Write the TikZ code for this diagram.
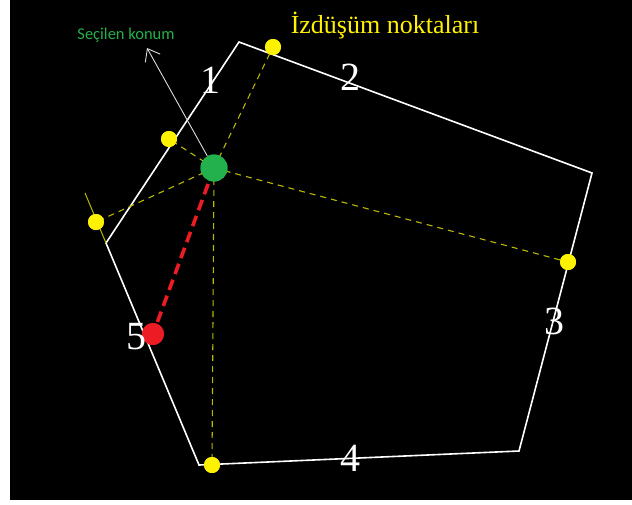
\documentclass[tikz,border=0pt]{standalone}
\usepackage{fontspec}
\setmainfont{Liberation Serif}
\newfontfamily\calibfont{Carlito}
\usetikzlibrary{arrows.meta}
\definecolor{ptgreen}{RGB}{34,177,76}
\definecolor{ptred}{RGB}{237,28,36}
\definecolor{projcol}{RGB}{185,185,0}
\definecolor{ptyellow}{RGB}{255,242,0}
\begin{document}
\begin{tikzpicture}[x=1pt,y=-1pt,
  edge/.style={draw=white,line width=1.6pt,line join=miter},
  proj/.style={draw=projcol,line width=1.1pt,dash pattern=on 6pt off 5pt},
  extline/.style={draw=projcol,line width=1pt},
  ydot/.style={circle,fill=ptyellow,inner sep=0pt,minimum size=16pt},
  gdot/.style={circle,fill=ptgreen,inner sep=0pt,minimum size=27pt},
  rdot/.style={circle,fill=ptred,inner sep=0pt,minimum size=22pt},
  reddash/.style={draw=ptred,line width=3.6pt,dash pattern=on 11pt off 6pt},
  arrowline/.style={draw={rgb,255:red,220;green,220;blue,220},line width=0.9pt,-{Straight Barb[length=11pt,width=17pt,line width=0.9pt]}},
  digit/.style={text=white,font=\fontsize{40}{40}\selectfont,inner sep=0pt},
  title/.style={text=ptyellow,font=\fontsize{26}{26}\selectfont,inner sep=0pt,anchor=base},
  subtitle/.style={text=ptgreen,font=\calibfont\fontsize{16.5}{16.5}\selectfont,inner sep=0pt,anchor=base}
]
\fill[white] (0,0) rectangle (632,504);
\fill[black] (10,0) rectangle (632,500);
\useasboundingbox (0,0) rectangle (632,504);

% pentagon vertices
\coordinate (A) at (239,42);
\coordinate (B) at (592,173);
\coordinate (C) at (519,451);
\coordinate (D) at (199,465);
\coordinate (E) at (106,243);
\coordinate (X) at (85,193);
\coordinate (T) at (147,48);

\draw[edge] (A) -- (B) -- (C) -- (D) -- (E) -- cycle;

% points
\node[gdot] (G) at (214,168) {};
\node[ydot] (P1) at (169,139) {};
\node[ydot] (P2) at (273,47) {};
\node[ydot] (P3) at (568,262) {};
\node[ydot] (P4) at (212,465) {};
\node[ydot] (P5) at (96,222) {};
\node[rdot] (R) at (153,334) {};

% projection lines
\draw[extline] (X) -- (E);
\draw[proj] (G.center) -- (P1.center);
\draw[proj] (G.center) -- (P2.center);
\draw[proj] (G.center) -- (P3.center);
\draw[proj] (G.center) -- (P4.center);
\draw[proj] (G.center) -- (P5.center);
\draw[reddash] (G.center) -- (R.center);

% redraw dots on top
\node[ydot] at (P1) {};
\node[ydot] at (P2) {};
\node[ydot] at (P3) {};
\node[ydot] at (P4) {};
\node[ydot] at (P5) {};
\node[gdot] at (G) {};
\node[rdot] at (R) {};

% arrow
\draw[arrowline] (G) -- (T);

% labels
\node[digit] (L1) at (210,80) {1};
\node[digit] (L2) at (350,77) {2};
\node[digit] (L3) at (554,321) {3};
\node[digit] (L4) at (350,458) {4};
\node[digit] (L5) at (136,337) {5};
\node[title] (TT) at (385,33) {İzdüşüm noktaları};
\node[subtitle] (ST) at (126,39) {Seçilen konum};
\end{tikzpicture}
\end{document}
